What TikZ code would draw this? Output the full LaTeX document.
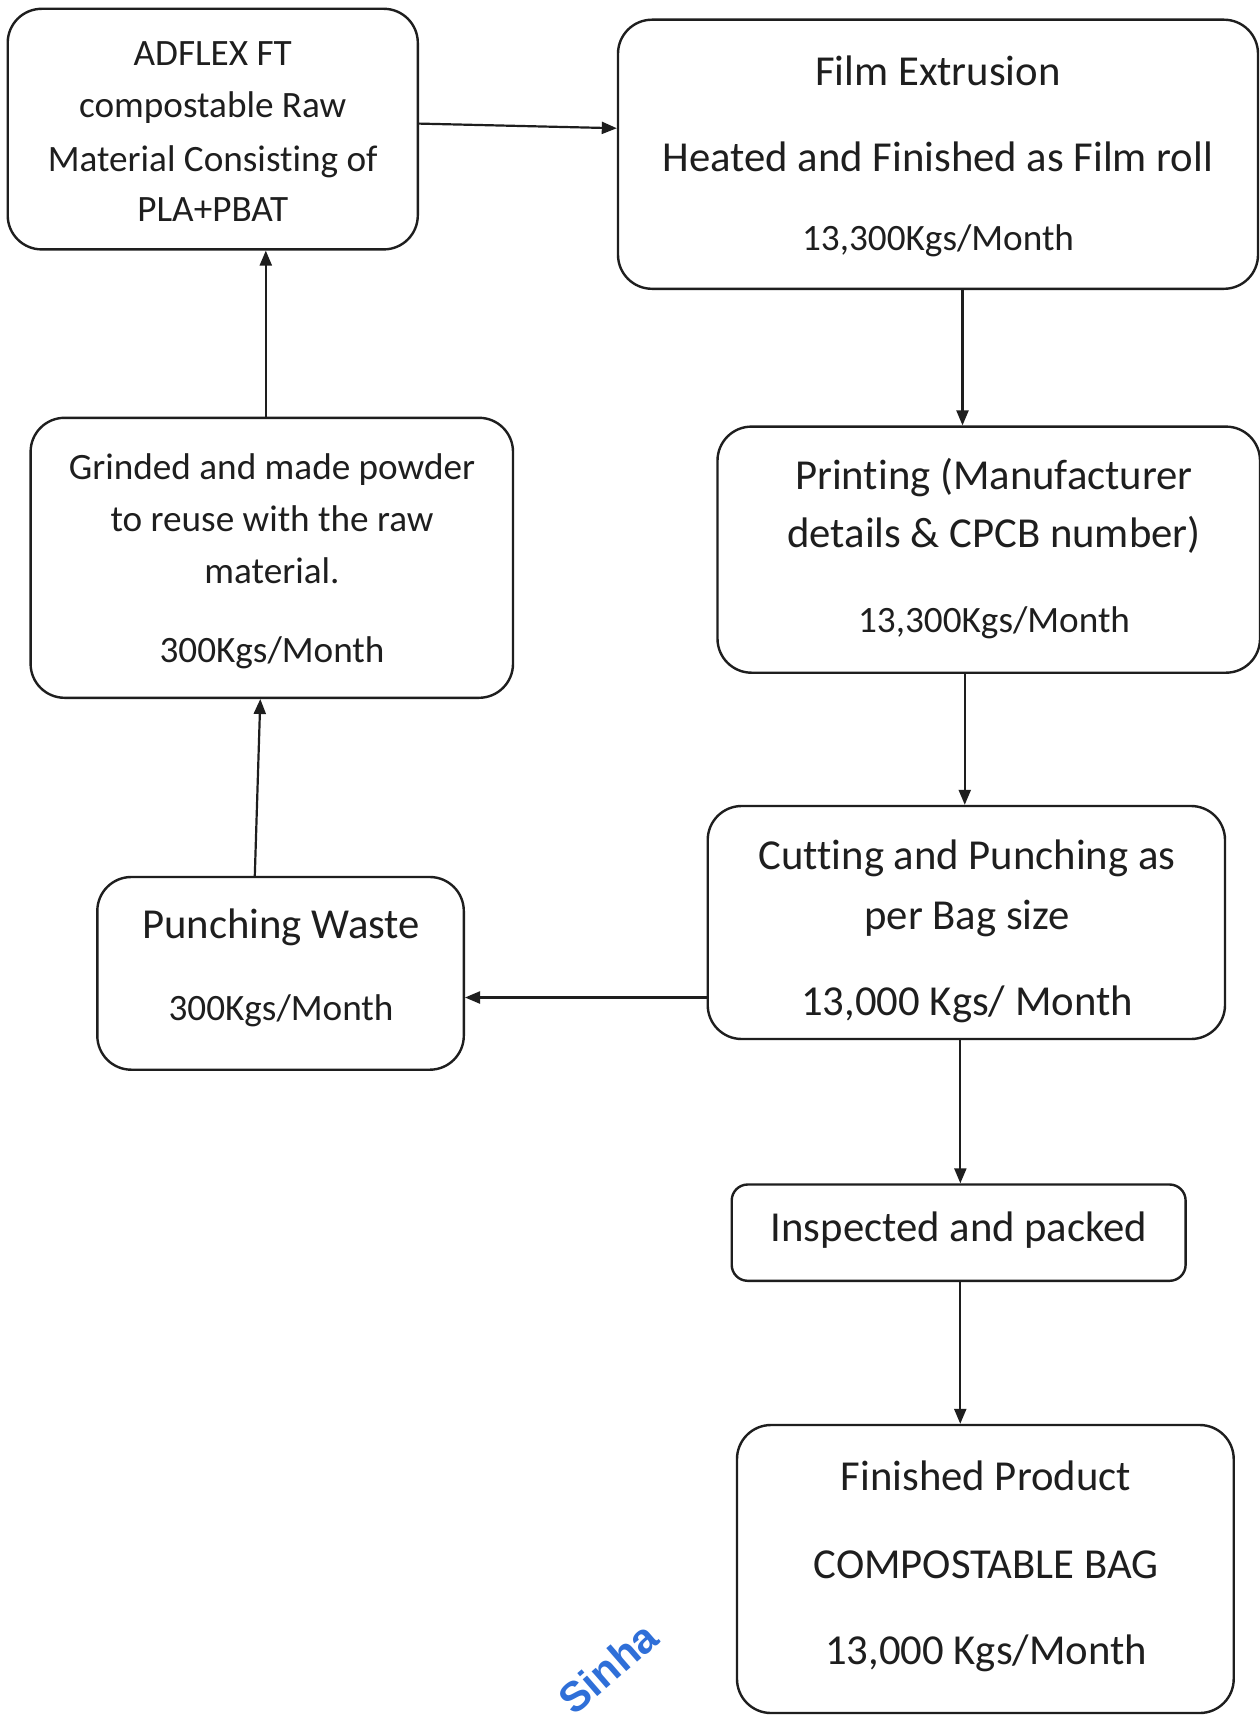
\documentclass[tikz,border=0pt]{standalone}
\usepackage{fontspec}
\setmainfont{Carlito}[Ligatures=NoCommon]
\newfontfamily\stampfont{Liberation Sans}
\usetikzlibrary{arrows.meta}
\definecolor{ink}{HTML}{1E1E1E}
\definecolor{stampblue}{HTML}{2F6FD8}
\begin{document}
\begin{tikzpicture}[x=1pt,y=-1pt,
  box/.style={draw=ink, line width=2.4pt, rounded corners=34pt, inner sep=0pt, fill=none},
  big/.style={font=\fontsize{42.7}{50}\selectfont, text=ink, anchor=base, inner sep=0pt},
  small/.style={font=\fontsize{37.2}{44}\selectfont, text=ink, anchor=base, inner sep=0pt},
  arr/.style={draw=ink, line width=2.2pt, -{Triangle[length=15pt,width=12pt]}}]
\useasboundingbox[fill=white] (0,0) rectangle (1260,1715);

% boxes
\node[box, minimum width=410.1pt, minimum height=240.6pt] (adflex) at (212.75,129.1) {};
\node[box, minimum width=640pt, minimum height=269.1pt] (film) at (938,154.25) {};
\node[box, minimum width=542.5pt, minimum height=246.1pt] (printing) at (988.75,549.65) {};
\node[box, minimum width=482.4pt, minimum height=280pt] (grinded) at (271.8,557.8) {};
\node[box, minimum width=517.3pt, minimum height=233pt] (cutting) at (966.35,922.5) {};
\node[box, minimum width=366.5pt, minimum height=192.7pt] (punching) at (280.55,973.35) {};
\node[box, rounded corners=16pt, minimum width=453.9pt, minimum height=96.3pt] (inspected) at (958.65,1232.65) {};
\node[box, minimum width=496.7pt, minimum height=288pt] (finished) at (985.35,1569) {};

% texts
\node[small] (adflex1) at (212.75,65.6) {ADFLEX FT};
\node[small] (adflex2) at (212.75,118) {compostable Raw};
\node[small] (adflex3) at (212.75,171.7) {Material Consisting of};
\node[small] (adflex4) at (212.75,222) {PLA+PBAT};

\node[big] (film1) at (938,85.3) {Film Extrusion};
\node[big] (film2) at (938,171.7) {Heated and Finished as Film roll};
\node[small] (film3) at (938,250.5) {13,300Kgs/Month};

\node[big] (print1) at (994,489) {Printing (Manufacturer};
\node[big] (print2) at (994,547) {details \& CPCB number)};
\node[small] (print3) at (994,632) {13,300Kgs/Month};

\node[small] (grind1) at (272,479) {Grinded and made powder};
\node[small] (grind2) at (272,531.6) {to reuse with the raw};
\node[small] (grind3) at (272,583) {material.};
\node[small] (grind4) at (272,662.8) {300Kgs/Month};

\node[big] (cut1) at (967,869.5) {Cutting and Punching as};
\node[big] (cut2) at (967,929.7) {per Bag size};
\node[big] (cut3) at (967,1015) {13,000 Kgs/ Month};

\node[big] (punch1) at (281,938.4) {Punching Waste};
\node[small] (punch2) at (281,1020.5) {300Kgs/Month};

\node[big] (insp1) at (959,1241.4) {Inspected and packed};

\node[big] (fin1) at (986,1490.8) {Finished Product};
\node[big] (fin2) at (986,1578.3) {COMPOSTABLE BAG};
\node[big] (fin3) at (986,1664.7) {13,000 Kgs/Month};

% connectors
\draw[arr] ([yshift=5.5pt]adflex.east) -- ([yshift=26pt]film.west);
\coordinate (fp) at ([xshift=24.5pt]film.south);
\draw[arr] (fp) -- (fp |- printing.north);
\coordinate (pc) at ([xshift=-24pt]printing.south);
\draw[arr] (pc) -- (pc |- cutting.north);
\coordinate (cw) at ([yshift=-75pt]cutting.west);
\draw[arr] (cw) -- (cw -| punching.east);
\draw[arr] ([xshift=-25.75pt]punching.north) -- ([xshift=-11.5pt]grinded.south);
\coordinate (ga) at ([xshift=-6pt]grinded.north);
\draw[arr] (ga) -- (ga |- adflex.south);
\coordinate (ci) at ([xshift=-6pt]cutting.south);
\draw[arr] (ci) -- (ci |- inspected.north);
\coordinate (if) at ([xshift=1.6pt]inspected.south);
\draw[arr] (if) -- (if |- finished.north);

% stamp fragment
\node[rotate=41, text=stampblue, font=\stampfont\bfseries\fontsize{42}{48}\selectfont, inner sep=0pt] (stamp) at (608,1668) {Sinha};
\end{tikzpicture}
\end{document}
